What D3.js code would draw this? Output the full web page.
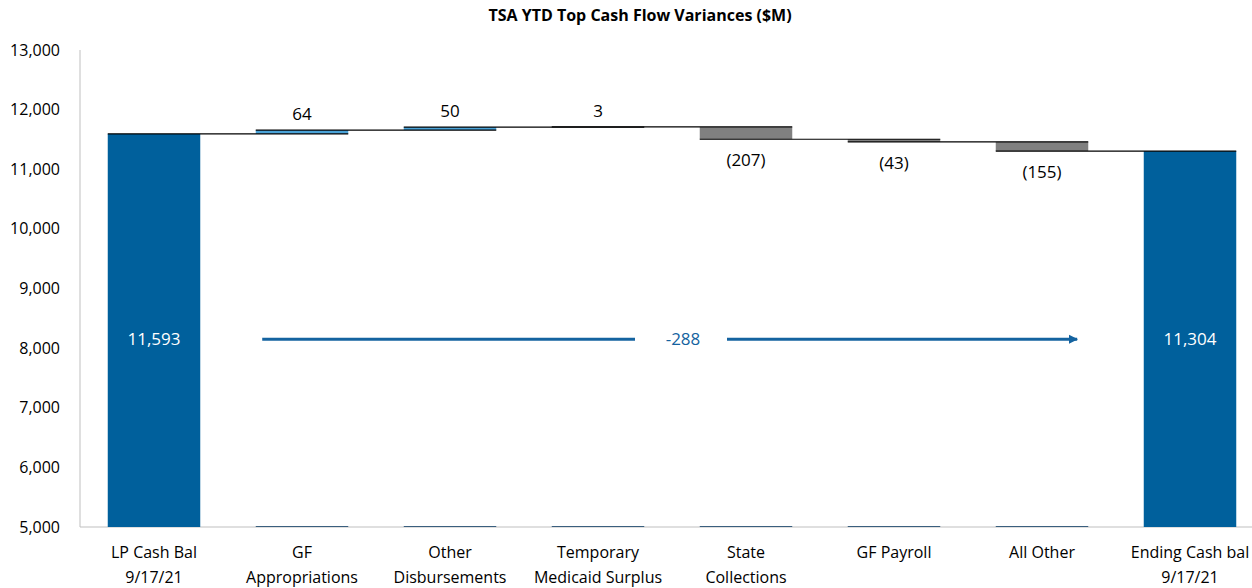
<!DOCTYPE html>
<html lang="en">
<head>
<meta charset="utf-8">
<script src="https://d3js.org/d3.v7.min.js"></script>
<style>
  body { margin: 0; background: #fff; }
  text { font-family: "Open Sans", sans-serif; }
</style>
</head>
<body>
<div id="chart"></div>
<script>
const categories = [
  ["LP Cash Bal", "9/17/21"],
  ["GF", "Appropriations"],
  ["Other", "Disbursements"],
  ["Temporary", "Medicaid Surplus"],
  ["State", "Collections"],
  ["GF Payroll"],
  ["All Other"],
  ["Ending Cash bal", "9/17/21"]
];
const startBal = 11593;
const deltas = [64, 50, 3, -207, -43, -155];
const endBal = 11304;
const yTicks = [5000, 6000, 7000, 8000, 9000, 10000, 11000, 12000, 13000];
const netChange = -288;

const width = 1252, height = 588;
const svg = d3.select("#chart").append("svg")
  .attr("width", width).attr("height", height);

const x = d3.scaleBand()
  .domain(d3.range(categories.length))
  .range([80, 1264])
  .paddingInner(0.375)
  .paddingOuter(0.1875);
const y = d3.scaleLinear().domain([5000, 13000]).range([527, 50]);
const bw = x.bandwidth();

// build waterfall segments
const segs = [];
let run = startBal;
segs.push({i: 0, lo: 5000, hi: startBal, type: "total", label: d3.format(",")(startBal), end: startBal});
deltas.forEach((d, k) => {
  const next = run + d;
  segs.push({i: k + 1, lo: Math.min(run, next), hi: Math.max(run, next), type: d >= 0 ? "up" : "down",
    label: d >= 0 ? String(d) : "(" + (-d) + ")", end: next});
  run = next;
});
segs.push({i: categories.length - 1, lo: 5000, hi: endBal, type: "total", label: d3.format(",")(endBal), end: endBal});

const fill = {total: "#00609c", up: "#4aa3d8", down: "#808080"};

// title
svg.append("text").attr("x", 640).attr("y", 21).attr("text-anchor", "middle")
  .style("font-size", "16px").style("font-weight", "bold").text("TSA YTD Top Cash Flow Variances ($M)");

// axes
svg.append("line").attr("x1", 80).attr("x2", 80).attr("y1", y(13000)).attr("y2", y(5000))
  .attr("stroke", "#bfbfbf");
svg.append("line").attr("x1", 80).attr("x2", 1252).attr("y1", y(5000)).attr("y2", y(5000))
  .attr("stroke", "#bfbfbf");
svg.append("g").selectAll("text").data(yTicks).join("text")
  .attr("x", 60).attr("y", d => y(d)).attr("dy", "0.35em").attr("text-anchor", "end")
  .style("font-size", "16px").attr("fill", "#000").text(d3.format(","));

// baseline marks under floating bars
svg.append("g").selectAll("line").data(segs.filter(s => s.type !== "total")).join("line")
  .attr("x1", s => x(s.i)).attr("x2", s => x(s.i) + bw)
  .attr("y1", y(5000) - 0.5).attr("y2", y(5000) - 0.5)
  .attr("stroke", "#3a5f7e").attr("stroke-width", 1);

// bars
svg.append("g").selectAll("rect").data(segs).join("rect")
  .attr("x", s => x(s.i)).attr("width", bw)
  .attr("y", s => y(s.hi)).attr("height", s => Math.max(0, y(s.lo) - y(s.hi)))
  .attr("fill", s => fill[s.type]);

// connectors
const conn = [];
for (let k = 0; k < segs.length - 1; k++) conn.push({a: k, b: k + 1, v: segs[k].end});
svg.append("g").selectAll("line").data(conn).join("line")
  .attr("x1", c => x(c.a)).attr("x2", c => x(c.b) + bw)
  .attr("y1", c => y(c.v)).attr("y2", c => y(c.v))
  .attr("stroke", "#000").attr("stroke-width", 1.2);

// value labels
svg.append("g").selectAll("text").data(segs).join("text")
  .attr("x", s => x(s.i) + bw / 2)
  .attr("y", s => s.type === "total" ? y(8150) : s.type === "up" ? y(s.hi) - 10 : y(s.lo) + 27)
  .attr("dy", s => s.type === "total" ? "0.35em" : 0)
  .attr("text-anchor", "middle").style("font-size", "17px")
  .attr("fill", s => s.type === "total" ? "#fff" : "#000")
  .text(s => s.label);

// net change arrow
const ay = y(8150);
const ax0 = x(1) + bw * 0.07, ax1 = x(6) + bw * 0.88;
const amid = (x(3) + x(4) + bw) / 2 + 11;
const defs = svg.append("defs");
defs.append("marker").attr("id", "arr").attr("viewBox", "0 0 10 10").attr("refX", 9).attr("refY", 5)
  .attr("markerWidth", 3.2).attr("markerHeight", 3.2).attr("orient", "auto")
  .append("path").attr("d", "M0,0L10,5L0,10Z").attr("fill", "#1463a0");
svg.append("line").attr("x1", ax0).attr("x2", amid - 48).attr("y1", ay).attr("y2", ay)
  .attr("stroke", "#1463a0").attr("stroke-width", 3);
svg.append("line").attr("x1", amid + 44).attr("x2", ax1).attr("y1", ay).attr("y2", ay)
  .attr("stroke", "#1463a0").attr("stroke-width", 3).attr("marker-end", "url(#arr)");
svg.append("text").attr("x", amid).attr("y", ay).attr("dy", "0.35em").attr("text-anchor", "middle")
  .style("font-size", "17px").attr("fill", "#1463a0").text(netChange);

// category labels
const cat = svg.append("g").selectAll("text").data(categories).join("text")
  .attr("text-anchor", "middle").style("font-size", "16px")
  .attr("transform", (d, i) => `translate(${x(i) + bw / 2},558)`);
cat.selectAll("tspan").data(d => d).join("tspan")
  .attr("x", 0).attr("dy", (d, j) => j === 0 ? 0 : 25).text(d => d);
</script>
</body>
</html>
